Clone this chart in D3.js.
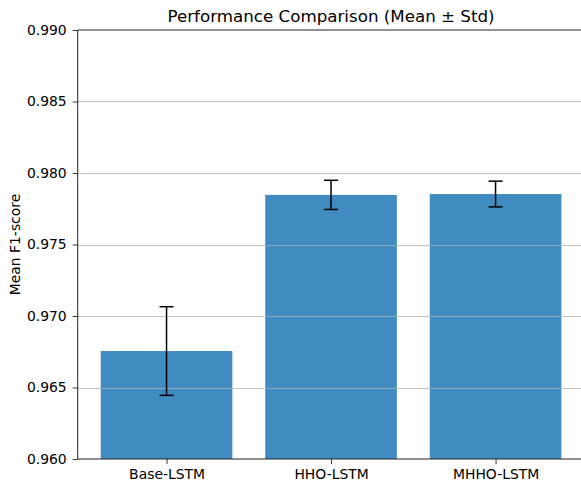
<!DOCTYPE html>
<html>
<head>
<meta charset="utf-8">
<script src="https://cdn.jsdelivr.net/npm/d3@7"></script>
<style>
  body { margin: 0; background: #fff; }
  text { font-family: "DejaVu Sans", sans-serif; fill: #000; }
</style>
</head>
<body>
<div id="chart"></div>
<script>
// data
var models = ["Base-LSTM", "HHO-LSTM", "MHHO-LSTM"];
var means = [0.96755, 0.97847, 0.97853];
var stds = [0.00310, 0.00102, 0.00090];
var yTicks = [0.960, 0.965, 0.970, 0.975, 0.980, 0.985, 0.990];

var WIDTH = 581, HEIGHT = 482;
var LEFT = 77.7, RIGHT = 584.4, TOP = 30, BOTTOM = 459;

var svg = d3.select("#chart").append("svg")
    .attr("width", WIDTH)
    .attr("height", HEIGHT);

// matplotlib-like x: bars at 0..2, width 0.8, 5% margins
var xScale = d3.scaleLinear()
    .domain([-0.54, 2.54])
    .range([LEFT, RIGHT]);

var yScale = d3.scaleLinear()
    .domain([0.960, 0.990])
    .range([BOTTOM, TOP]);

var barW = xScale(0.8) - xScale(0);

// bars
svg.selectAll(".bar")
    .data(means)
    .enter()
    .append("rect")
    .attr("class", "bar")
    .attr("x", (d, i) => xScale(i) - barW / 2)
    .attr("y", d => yScale(d))
    .attr("width", barW)
    .attr("height", d => BOTTOM - yScale(d))
    .attr("fill", "#1f77b4")
    .attr("fill-opacity", 0.85);

// grid (drawn over bars, translucent)
svg.append("g")
    .selectAll("line")
    .data(yTicks.slice(1, -1))
    .enter()
    .append("line")
    .attr("x1", LEFT)
    .attr("x2", RIGHT)
    .attr("y1", d => Math.round(yScale(d)) + 0.5)
    .attr("y2", d => Math.round(yScale(d)) + 0.5)
    .attr("stroke", "#b0b0b0")
    .attr("stroke-opacity", 0.75)
    .attr("stroke-width", 1);

// error bars
var err = svg.append("g").selectAll("g")
    .data(means)
    .enter()
    .append("g");
var cap = 7;
err.append("line")
    .attr("x1", (d, i) => xScale(i))
    .attr("x2", (d, i) => xScale(i))
    .attr("y1", (d, i) => yScale(d - stds[i]))
    .attr("y2", (d, i) => yScale(d + stds[i]))
    .attr("stroke", "#000")
    .attr("stroke-width", 1.5);
err.append("line")
    .attr("x1", (d, i) => xScale(i) - cap)
    .attr("x2", (d, i) => xScale(i) + cap)
    .attr("y1", (d, i) => yScale(d + stds[i]))
    .attr("y2", (d, i) => yScale(d + stds[i]))
    .attr("stroke", "#000")
    .attr("stroke-width", 1.5);
err.append("line")
    .attr("x1", (d, i) => xScale(i) - cap)
    .attr("x2", (d, i) => xScale(i) + cap)
    .attr("y1", (d, i) => yScale(d - stds[i]))
    .attr("y2", (d, i) => yScale(d - stds[i]))
    .attr("stroke", "#000")
    .attr("stroke-width", 1.5);

// axes
var yAxis = svg.append("g")
    .attr("transform", "translate(" + LEFT + ",0)")
    .call(d3.axisLeft(yScale).tickValues(yTicks).tickFormat(d3.format(".3f")).tickSize(5).tickPadding(6));

var xAxis = svg.append("g")
    .attr("transform", "translate(0," + BOTTOM + ")")
    .call(d3.axisBottom(xScale).tickValues([0, 1, 2]).tickFormat((d, i) => models[i]).tickSize(5).tickPadding(5));

[yAxis, xAxis].forEach(function(a) {
    a.select(".domain").remove();
    a.selectAll("line").attr("stroke", "#222").attr("stroke-width", 0.9);
    a.selectAll("text").attr("font-size", "13.9px").attr("fill", "#000")
        .style("font-family", "DejaVu Sans, sans-serif");
});

// spines
svg.append("line").attr("x1", LEFT).attr("x2", LEFT).attr("y1", TOP).attr("y2", BOTTOM)
    .attr("stroke", "#222").attr("stroke-width", 1);
svg.append("line").attr("x1", LEFT).attr("x2", RIGHT).attr("y1", BOTTOM).attr("y2", BOTTOM)
    .attr("stroke", "#222").attr("stroke-width", 1);
svg.append("line").attr("x1", LEFT).attr("x2", RIGHT).attr("y1", TOP).attr("y2", TOP)
    .attr("stroke", "#222").attr("stroke-width", 1);
svg.append("line").attr("x1", RIGHT).attr("x2", RIGHT).attr("y1", TOP).attr("y2", BOTTOM)
    .attr("stroke", "#222").attr("stroke-width", 1);

// labels
svg.append("text")
    .attr("x", (LEFT + RIGHT) / 2)
    .attr("y", 22)
    .attr("text-anchor", "middle")
    .attr("font-size", "16.7px")
    .text("Performance Comparison (Mean \u00b1 Std)");

svg.append("text")
    .attr("transform", "translate(20," + ((TOP + BOTTOM) / 2) + ") rotate(-90)")
    .attr("text-anchor", "middle")
    .attr("font-size", "13.9px")
    .text("Mean F1-score");
</script>
</body>
</html>
